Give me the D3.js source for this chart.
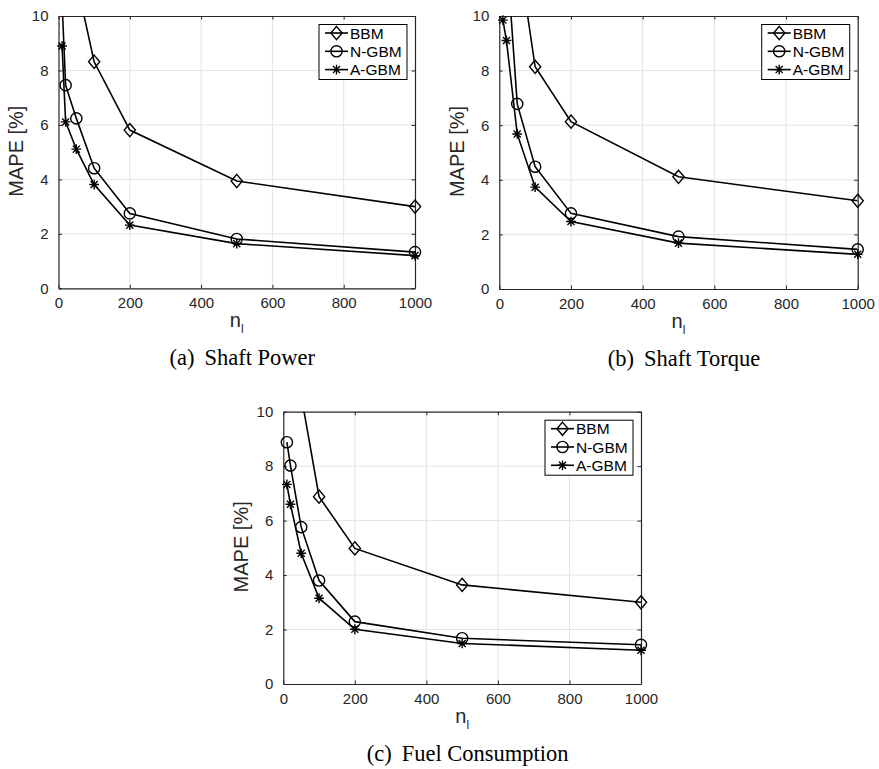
<!DOCTYPE html>
<html>
<head>
<meta charset="utf-8">
<script src="https://cdn.jsdelivr.net/npm/d3@7"></script>
<style>
  html, body { margin: 0; padding: 0; background: #ffffff; }
  svg { display: block; }
</style>
</head>
<body>
<svg id="chart" width="879" height="769"></svg>
<script>
// ---------- DATA ----------
const nValues = [10, 20, 50, 100, 200, 500, 1000];
const seriesNames = ["BBM", "N-GBM", "A-GBM"];
const xTicks = [0, 200, 400, 600, 800, 1000];
const yTicks = [0, 2, 4, 6, 8, 10];

// (a) Shaft Power
const powerBBM  = [16.0, 14.0, 11.3, 8.32, 5.81, 3.94, 3.00];
const powerNGBM = [10.5, 7.46, 6.24, 4.41, 2.75, 1.81, 1.33];
const powerAGBM = [8.90, 6.11, 5.11, 3.81, 2.32, 1.64, 1.20];

// (b) Shaft Torque
const torqueBBM  = [17.0, 15.0, 12.6, 8.14, 6.13, 4.11, 3.23];
const torqueNGBM = [15.0, 12.4, 6.78, 4.48, 2.77, 1.92, 1.45];
const torqueAGBM = [9.85, 9.10, 5.68, 3.73, 2.47, 1.68, 1.27];

// (c) Fuel Consumption
const fuelBBM  = [15.0, 13.0, 10.6, 6.88, 4.98, 3.64, 3.00];
const fuelNGBM = [8.88, 8.02, 5.76, 3.80, 2.29, 1.68, 1.44];
const fuelAGBM = [7.33, 6.60, 4.80, 3.15, 2.01, 1.49, 1.24];

const captions = ["(a)", "(b)", "(c)"];
const captionTitles = ["Shaft Power", "Shaft Torque", "Fuel Consumption"];

// ---------- LAYOUT ----------
const panels = [
  { left: 58.5, top: 16, width: 356.5, height: 272.3, series: [powerBBM, powerNGBM, powerAGBM] },
  { left: 499.3, top: 16, width: 358.4, height: 273, series: [torqueBBM, torqueNGBM, torqueAGBM] },
  { left: 283.3, top: 411.7, width: 357.7, height: 272.3, series: [fuelBBM, fuelNGBM, fuelAGBM] }
];

const svg = d3.select("#chart");
const axisColor = "#262626";
const gridColor = "#e3e3e3";
const sans = "'Liberation Sans', Arial, Helvetica, sans-serif";
const serif = "'Liberation Serif', 'Times New Roman', Times, serif";

function drawMarker(g, type, x, y) {
  if (type === 0) {
    const s = 6.6;
    g.append("path")
      .attr("d", `M${x},${y - s}L${x + s * 0.85},${y}L${x},${y + s}L${x - s * 0.85},${y}Z`)
      .attr("fill", "none").attr("stroke", "#000").attr("stroke-width", 1.4);
  } else if (type === 1) {
    g.append("circle").attr("cx", x).attr("cy", y).attr("r", 5.6)
      .attr("fill", "none").attr("stroke", "#000").attr("stroke-width", 1.4);
  } else {
    const s = 4.9, d = s * 0.72;
    g.append("path")
      .attr("d", `M${x - s},${y}L${x + s},${y}M${x},${y - s}L${x},${y + s}M${x - d},${y - d}L${x + d},${y + d}M${x - d},${y + d}L${x + d},${y - d}`)
      .attr("fill", "none").attr("stroke", "#000").attr("stroke-width", 1.4);
  }
}

panels.forEach((p, i) => {
  const x = d3.scaleLinear().domain([0, 1000]).range([p.left, p.left + p.width]);
  const y = d3.scaleLinear().domain([0, 10]).range([p.top + p.height, p.top]);
  const g = svg.append("g");

  const clipId = "clip" + i;
  svg.append("clipPath").attr("id", clipId)
    .append("rect").attr("x", p.left).attr("y", p.top).attr("width", p.width).attr("height", p.height);

  // grid
  const grid = g.append("g");
  xTicks.slice(1, -1).forEach(t => {
    grid.append("line").attr("x1", x(t)).attr("x2", x(t)).attr("y1", p.top).attr("y2", p.top + p.height)
      .attr("stroke", gridColor).attr("stroke-width", 1);
  });
  yTicks.slice(1, -1).forEach(t => {
    grid.append("line").attr("x1", p.left).attr("x2", p.left + p.width).attr("y1", y(t)).attr("y2", y(t))
      .attr("stroke", gridColor).attr("stroke-width", 1);
  });

  // axes (ticks inward, box on)
  const fmt = d3.format("d");
  const xAxis = d3.axisBottom(x).tickValues(xTicks).tickFormat(fmt).tickSizeInner(-3.5).tickSizeOuter(0).tickPadding(9);
  const yAxis = d3.axisLeft(y).tickValues(yTicks).tickFormat(fmt).tickSizeInner(-3.5).tickSizeOuter(0).tickPadding(10);
  const gx = g.append("g").attr("transform", `translate(0,${p.top + p.height})`).call(xAxis);
  const gy = g.append("g").attr("transform", `translate(${p.left},0)`).call(yAxis);
  const gxTop = g.append("g").attr("transform", `translate(0,${p.top})`)
    .call(d3.axisTop(x).tickValues(xTicks).tickSizeInner(-3.5).tickSizeOuter(0).tickFormat(""));
  const gyRight = g.append("g").attr("transform", `translate(${p.left + p.width},0)`)
    .call(d3.axisRight(y).tickValues(yTicks).tickSizeInner(-3.5).tickSizeOuter(0).tickFormat(""));
  [gx, gy, gxTop, gyRight].forEach(a => {
    a.select(".domain").attr("stroke", axisColor).attr("stroke-width", 1.2);
    a.selectAll(".tick line").attr("stroke", axisColor).attr("stroke-width", 1);
    a.selectAll(".tick text").attr("fill", axisColor).style("font-family", sans).style("font-size", "15px");
  });

  // lines
  const line = d3.line().x(d => x(d[0])).y(d => y(d[1]));
  const lineG = g.append("g").attr("clip-path", `url(#${clipId})`);
  p.series.forEach((vals) => {
    const pts = nValues.map((n, k) => [n, vals[k]]);
    lineG.append("path").datum(pts).attr("d", line)
      .attr("fill", "none").attr("stroke", "#000").attr("stroke-width", 1.6);
  });
  // markers (only points inside the axes)
  const mg = g.append("g");
  p.series.forEach((vals, si) => {
    nValues.forEach((n, k) => {
      if (vals[k] <= 10) drawMarker(mg, si, x(n), y(vals[k]));
    });
  });

  // legend
  const lx = p.left + p.width - 96, ly = p.top + 8.5;
  const leg = g.append("g");
  leg.append("rect").attr("x", lx).attr("y", ly).attr("width", 88).attr("height", 55)
    .attr("fill", "#fff").attr("stroke", "#000").attr("stroke-width", 1);
  seriesNames.forEach((name, si) => {
    const yy = ly + 8.5 + si * 18.3;
    leg.append("line").attr("x1", lx + 6).attr("x2", lx + 29).attr("y1", yy).attr("y2", yy)
      .attr("stroke", "#000").attr("stroke-width", 1.6);
    drawMarker(leg, si, lx + 17.5, yy);
    leg.append("text").attr("x", lx + 31).attr("y", yy).attr("dy", "0.36em")
      .style("font-family", sans).style("font-size", "15.5px").attr("fill", "#000").text(name);
  });

  // x label n_l
  const xl = g.append("text").attr("x", p.left + p.width / 2).attr("y", p.top + p.height + 38.5)
    .attr("text-anchor", "middle").style("font-family", sans).style("font-size", "20px").attr("fill", axisColor);
  xl.append("tspan").text("n");
  xl.append("tspan").attr("dy", 6).style("font-size", "12px").text("l");

  // y label
  g.append("text")
    .attr("transform", `translate(${p.left - 35.5},${p.top + p.height / 2 - 1}) rotate(-90)`)
    .attr("text-anchor", "middle").style("font-family", sans).style("font-size", "20px")
    .attr("fill", axisColor).text("MAPE [%]");

  // caption
  const cap = g.append("text").attr("x", p.left + p.width / 2 + 5.5).attr("y", p.top + p.height + 77)
    .attr("text-anchor", "middle").style("font-family", serif).style("font-size", "22.5px").attr("fill", "#000");
  cap.append("tspan").text(captions[i]);
  cap.append("tspan").attr("dx", 10).text(captionTitles[i]);
});
</script>
</body>
</html>
